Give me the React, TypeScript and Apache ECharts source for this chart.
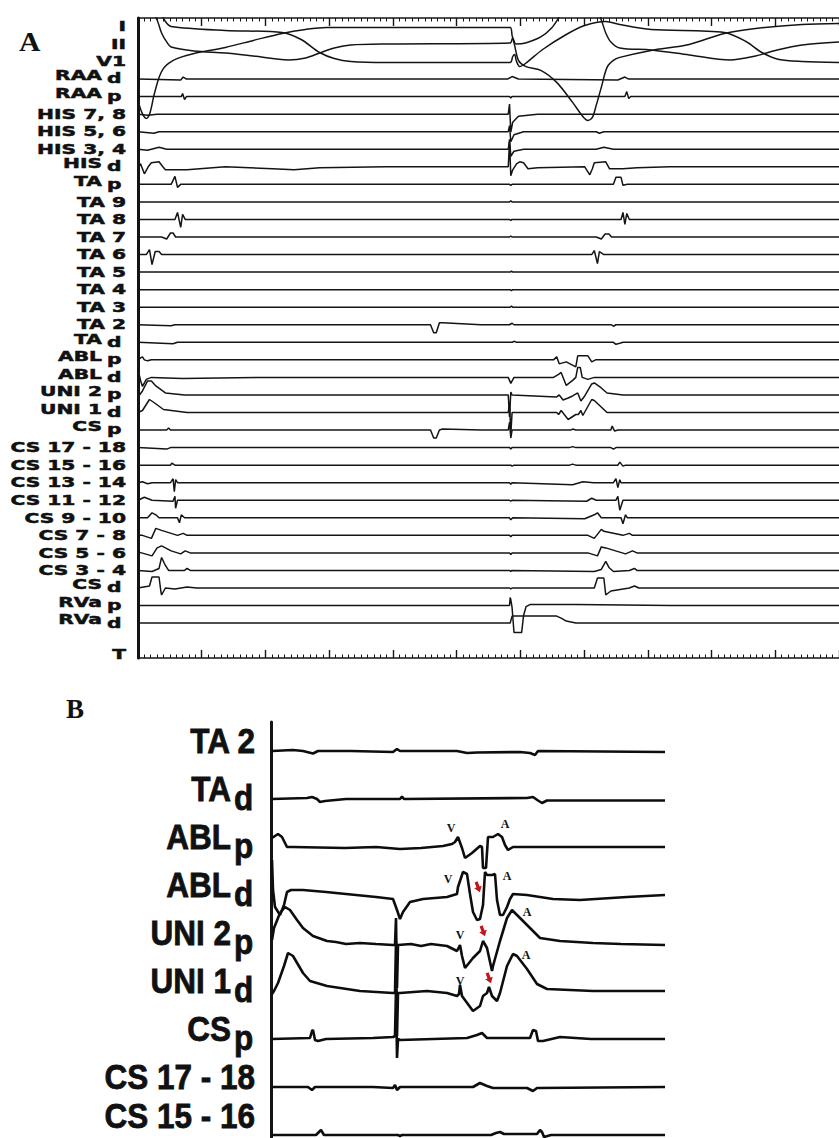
import React, { useEffect, useRef } from 'react';
import * as echarts from 'echarts';

// ---------------- Panel A : channel names (main text, subscript) ----------------
const A_LABELS: [string, string][] = [
  ['I', ''], ['II', ''], ['V1', ''], ['RAA', 'd'], ['RAA', 'p'],
  ['HIS 7, 8', ''], ['HIS 5, 6', ''], ['HIS 3, 4', ''], ['HIS', 'd'], ['TA', 'p'],
  ['TA 9', ''], ['TA 8', ''], ['TA 7', ''], ['TA 6', ''], ['TA 5', ''],
  ['TA 4', ''], ['TA 3', ''], ['TA 2', ''], ['TA', 'd'], ['ABL', 'p'],
  ['ABL', 'd'], ['UNI 2', 'p'], ['UNI 1', 'd'], ['CS', 'p'], ['CS 17 - 18', ''],
  ['CS 15 - 16', ''], ['CS 13 - 14', ''], ['CS 11 - 12', ''], ['CS 9 - 10', ''], ['CS 7 - 8', ''],
  ['CS 5 - 6', ''], ['CS 3 - 4', ''], ['CS', 'd'], ['RVa', 'p'], ['RVa', 'd'],
];

// time axis of panel A (ms); minor tick = 10 ms, major = 100 ms
const A_TIME_MAX = 1100;
const A_TICK = 100;
const A_MINOR_SPLIT = 10;

// ---------------- Panel A traces : [time ms, deflection] ----------------
const A_I = [[0,-74],[6,-86],[13,-92],[19,-86],[25,-69],[33,-51],[40,-42],[48,-37],[62,-32],[88,-27],[137,-21],[181,-14],[226,-7],[263,-3],[296,-1],[434,-1],[584,-1],[587,-9],[591,-19],[597,-34],[608,-40],[632,-44],[657,-56],[682,-76],[698,-90],[706,-94],[713,-91],[719,-79],[727,-61],[736,-41],[746,-34],[756,-31],[805,-24],[865,-18],[920,-7],[969,-2],[1042,2],[1100,3]];
const A_II = [[18,39],[30,24],[37,11],[45,2],[52,-3],[88,-7],[137,-9],[181,-12],[236,-16],[263,-14],[285,-9],[308,-4],[334,-1],[389,0],[584,1],[588,6],[593,0],[608,1],[632,7],[649,16],[660,26],[672,39],[716,39],[727,24],[734,11],[742,2],[756,-4],[805,-6],[865,-11],[929,-16],[969,-12],[1003,-6],[1042,-1],[1100,2]];
const A_V1 = [[33,52],[43,40],[52,35],[137,31],[226,29],[256,22],[285,9],[308,3],[334,0],[389,-1],[584,-1],[588,5],[591,7],[594,0],[599,-5],[608,-2],[635,12],[672,27],[701,36],[734,40],[756,37],[805,32],[920,29],[954,20],[979,9],[1006,2],[1042,0],[1100,-1]];
const A_RAAd = [[0,0],[67,-1],[71,2],[76,0],[580,0],[587,2.5],[597,0],[753,-1],[764,2],[770,0],[1100,0]];
const A_RAAp = [[0,0],[68,0],[70,3],[73,-3],[76,0],[583,0],[585,-1.5],[587,0],[764,0],[767,5],[770,-2],[773,0],[1100,0]];
const A_HIS78 = [[0,0],[15,-1],[30,0],[581,0],[583,10],[585,-18],[588,-8],[597,-2],[627,0],[1100,0]];
const A_HIS56 = [[0,0],[25,-1.5],[33,0],[581,0],[583,6],[585,-10],[590,-3],[605,0],[719,0],[724,-1.5],[731,0],[1100,0]];
const A_HIS34 = [[0,0],[15,-1],[33,2],[45,0],[581,0],[583,10],[585,-7],[590,-2],[605,0],[719,0],[731,2],[746,0],[1100,0]];
const A_HISd = [[0,0],[4,3],[10,-7],[16,0],[21,4],[33,5],[39,0],[43,-3],[77,-3],[137,0],[211,-2],[245,-3],[285,-1],[389,0],[581,0],[583,25],[585,-9],[588,-3],[594,3],[599,5],[605,4],[612,-2],[627,-1],[701,0],[704,-3],[709,-8],[713,-2],[716,4],[734,5],[740,-2],[761,-2],[783,-1],[835,0],[1100,0]];
const A_TAp = [[0,0],[52,0],[58,8],[62,-3],[67,0],[583,0],[585,-1],[587,0],[746,0],[750,7],[758,7],[761,-1],[768,0],[1100,0]];
const A_TA9 = [[0,0],[583,0],[585,1],[587,0],[1100,0]];
const A_TA8 = [[0,0],[58,0],[62,7],[67,-8],[70,5],[74,0],[583,0],[585,-1],[587,0],[758,0],[761,7],[764,-5],[767,6],[771,0],[1100,0]];
const A_TA7 = [[0,0],[37,0],[45,-2],[51,4],[55,4],[59,0],[583,0],[585,1],[587,0],[719,0],[727,-2],[733,3],[739,3],[743,0],[1100,0]];
const A_TA6 = [[0,0],[13,0],[18,5],[22,-10],[27,3],[33,3],[37,0],[712,0],[716,4],[721,-9],[724,3],[731,0],[1100,0]];
const A_TA5 = [[0,0],[584,0],[586,1],[588,0],[1100,0]];
const A_TA4 = [[0,0],[584,0],[586,-1],[588,0],[1100,0]];
const A_TA3 = [[0,0],[584,0],[586,1],[588,0],[1100,0]];
const A_TA2 = [[0,0],[52,-1],[58,0],[459,0],[464,-8],[468,-8],[473,2],[478,2],[538,0],[583,0],[587,1.5],[590,0],[743,0],[746,-1.5],[750,0],[1100,0]];
const A_TAd = [[0,0],[55,-1.5],[62,0],[587,0],[591,1],[594,0],[746,0],[750,-2],[756,-1],[761,0],[1100,0]];
const A_ABLp = [[0,0],[4,2],[7,3],[10,0],[15,-1],[21,0],[652,0],[657,3],[661,-4],[672,-2],[687,-7],[690,4],[706,4],[712,-2],[718,0],[1100,0]];
const A_ABLd = [[0,8],[4,-3],[7,-9],[13,-2],[21,0],[70,-1],[200,0],[581,0],[585,-6],[590,0],[652,0],[660,3],[664,5],[672,-8],[682,-3],[687,0],[690,10],[694,10],[697,0],[706,-2],[716,0],[1100,0]];
const A_UNI2p = [[0,-2],[7,4],[15,14],[21,14],[28,9],[43,2],[73,0],[581,0],[583,-22],[585,3],[587,0],[657,-2],[661,0],[667,-5],[675,-3],[682,-1],[690,2],[695,-6],[701,-1],[712,11],[716,12],[727,7],[736,2],[761,0],[1100,0]];
const A_UNI1d = [[0,0],[7,2],[18,13],[25,10],[40,3],[77,0],[581,0],[583,10],[585,-22],[587,0],[657,0],[660,-2],[664,2],[675,-7],[687,-2],[691,-2],[695,2],[698,-3],[712,13],[716,12],[736,0],[1100,0]];
const A_CSp = [[0,0],[45,0],[48,2],[51,0],[459,0],[464,-8],[468,-8],[473,0],[478,1],[538,0],[581,0],[583,8],[585,-8],[587,0],[679,0],[682,1],[687,0],[742,0],[744,4],[748,-1],[753,0],[1100,0]];
const A_CS1718 = [[0,0],[45,-1.5],[51,0],[583,0],[585,-1.5],[587,0],[677,0],[682,1],[687,0],[742,0],[746,-1.5],[750,0],[1100,0]];
const A_CS1516 = [[0,0],[51,0],[53,2],[58,0],[585,0],[587,-1],[590,0],[677,0],[682,1],[687,0],[753,0],[756,3],[761,-1],[765,0],[1100,0]];
const A_CS1314 = [[0,0],[7,1],[15,-1],[22,0],[51,0],[55,4],[57,-9],[59,3],[62,0],[583,0],[585,-1.5],[587,0],[682,-2],[698,1],[715,0],[746,0],[750,4],[753,-5],[756,3],[758,0],[1100,0]];
const A_CS1112 = [[0,0],[10,3],[22,0],[55,-1],[58,4],[59,-8],[62,0],[583,0],[585,-1],[587,0],[704,-1],[712,2],[719,0],[750,0],[753,4],[756,-10],[761,0],[1100,0]];
const A_CS910 = [[0,0],[15,0],[22,5],[28,3],[33,0],[62,0],[65,-5],[68,3],[73,0],[583,0],[585,-2],[588,0],[701,-1],[716,3],[721,5],[727,0],[758,0],[761,-6],[765,3],[768,0],[1100,0]];
const A_CS78 = [[0,0],[7,0],[21,-3],[28,7],[37,5],[62,0],[71,2],[77,0],[583,0],[585,-1.5],[587,0],[706,0],[716,-3],[727,6],[731,4],[761,0],[771,2],[776,0],[1100,0]];
const A_CS56 = [[0,1],[22,-3],[30,5],[37,7],[52,2],[67,-1],[74,2],[82,0],[583,0],[585,-1.5],[587,0],[706,0],[721,-3],[727,6],[734,5],[765,-1],[776,2],[783,0],[1100,0]];
const A_CS34 = [[0,0],[22,-1],[33,2],[37,13],[43,5],[48,0],[73,0],[77,2],[82,0],[583,0],[585,-1],[587,0],[716,-1],[727,1],[734,9],[739,3],[746,-1],[771,0],[779,2],[783,0],[1100,0]];
const A_CSd = [[0,0],[18,2],[22,11],[33,11],[36,-4],[37,-7],[43,0],[58,-1],[77,1],[92,0],[583,0],[585,-1],[587,0],[697,0],[716,0],[721,10],[731,10],[734,-7],[742,-3],[771,0],[779,2],[786,0],[1100,0]];
const A_RVap = [[0,0],[583,0],[584,8],[585,6],[587,-2],[590,-27],[602,-27],[605,-10],[609,-1],[615,1],[687,1],[835,0],[1100,0]];
const A_RVad = [[0,0],[584,0],[587,7],[597,7],[657,7],[664,5],[672,2],[687,0],[1100,0]];

const A_TRACES = [A_I, A_II, A_V1, A_RAAd, A_RAAp, A_HIS78, A_HIS56, A_HIS34, A_HISd, A_TAp,
  A_TA9, A_TA8, A_TA7, A_TA6, A_TA5, A_TA4, A_TA3, A_TA2, A_TAd, A_ABLp,
  A_ABLd, A_UNI2p, A_UNI1d, A_CSp, A_CS1718, A_CS1516, A_CS1314, A_CS1112, A_CS910, A_CS78,
  A_CS56, A_CS34, A_CSd, A_RVap, A_RVad];

// ---------------- Panel B ----------------
const B_LABELS: [string, string][] = [
  ['TA 2', ''], ['TA', 'd'], ['ABL', 'p'], ['ABL', 'd'], ['UNI 2', 'p'],
  ['UNI 1', 'd'], ['CS', 'p'], ['CS 17 - 18', ''], ['CS 15 - 16', ''],
];
const B_TIME_MAX = 788;

const B_TA2 = [[2,0],[44,1],[64,0],[84,-2.5],[94,0],[160,0],[244,-1],[252,2],[258,0],[372,0],[392,-2],[412,-1.5],[498,-1],[518,-2],[528,-4],[534,0],[788,-1]];
const B_TAd = [[2,0],[72,1],[82,2],[92,0],[98,-3],[108,-2],[150,0],[258,0],[262,2.5],[266,0],[512,1],[524,2],[534,-1.5],[542,-4],[552,-1.5],[788,-1.5]];
const B_ABLp = [[2,9],[14,13],[22,10],[32,0],[44,0],[148,-1],[210,0],[258,-2],[300,-1],[344,1],[362,3],[368,5],[374,10],[382,-1],[388,-11],[402,-6],[418,1],[422,0],[424,-21],[430,-21],[434,10],[444,10],[454,13],[462,10],[468,2],[474,-3],[484,0],[618,0],[788,0]];
const B_ABLd = [[2,35],[4,5],[8,-12],[18,-20],[26,-10],[32,3],[40,5],[64,5],[110,3],[150,1],[210,-2],[244,-4],[252,-15],[258,-24],[264,-17],[278,-7],[304,-4],[352,-2],[372,1],[374,8],[384,23],[392,21],[398,1],[404,-17],[412,-25],[418,-24],[424,-10],[428,23],[432,20],[442,20],[448,21],[452,-5],[458,-20],[464,-20],[472,-12],[478,-4],[484,1],[512,0],[564,-4],[618,-5],[712,-2],[788,0]];
const B_UNI2p = [[2,3],[6,15],[18,30],[28,36],[38,33],[52,23],[64,15],[84,7],[112,2],[130,1],[150,-1],[178,0],[210,-1],[244,-2],[248,-2],[250,25],[252,-45],[254,-2],[280,-1],[300,-3],[320,-1],[352,-3],[372,-8],[378,-2],[382,-13],[388,-25],[404,-15],[418,-8],[424,2],[432,-5],[442,-28],[444,-23],[458,2],[472,25],[482,33],[492,28],[512,18],[538,5],[578,2],[644,0],[700,-1],[788,-2]];
const B_UNI1d = [[2,-3],[6,0],[14,8],[26,25],[34,38],[44,35],[64,18],[78,10],[112,5],[178,0],[244,-2],[248,-2],[250,50],[252,-45],[254,-2],[258,-2],[312,0],[352,-2],[372,-5],[376,-3],[378,6],[382,-5],[404,-20],[418,-15],[424,-5],[432,-2],[436,4],[442,-5],[452,-10],[458,-2],[472,25],[484,37],[492,35],[512,22],[532,7],[552,2],[644,0],[788,0]];
const B_CSp = [[2,0],[78,1],[82,8],[84,9],[88,-1],[94,-2],[110,0],[204,1],[244,2],[248,3],[250,50],[252,-19],[254,0],[258,-1],[392,1],[412,4],[422,6],[432,1],[518,1],[524,9],[530,8],[534,-2],[544,-2],[578,2],[640,0],[788,0]];
const B_CS1718 = [[2,0],[74,0],[82,-3],[88,0],[204,0],[244,-1],[248,2],[252,-3],[258,0],[404,0],[418,4],[432,1],[444,-1],[512,-1],[524,-4],[532,-1],[788,0]];
const B_CS1516 = [[2,0],[90,0],[96,3],[100,5],[106,0],[254,0],[258,-1],[262,0],[440,0],[450,2],[458,3],[466,1],[532,1],[538,5],[542,3],[546,-2],[560,0],[788,0]];

const B_TRACES = [B_TA2, B_TAd, B_ABLp, B_ABLd, B_UNI2p, B_UNI1d, B_CSp, B_CS1718, B_CS1516];

// annotations in panel B: channel index, time, deflection, letter
const B_LETTERS: [number, number, number, string][] = [
  [2, 360, 19, 'V'], [2, 468, 23, 'A'],
  [3, 354, 16, 'V'], [3, 472, 19, 'A'],
  [4, 378, 8, 'V'], [4, 512, 31, 'A'],
  [5, 378, 10, 'V'], [5, 510, 36, 'A'],
];
const B_ARROWS: [number, number, number][] = [[3, 414, 8], [4, 424, 12], [5, 436, 13]];

// ---------------- layout (pixels / offsets) ----------------
const A_ROW = 17.55, A_FIRST = 8.4, A_YSPAN = 640;
const B_ROW = 48, B_FIRST = 29, B_YSPAN = 416;
const aBase = (i: number) => -(A_FIRST + A_ROW * i);
const bBase = (i: number) => -(B_FIRST + B_ROW * i);

const INK = '#141414';

function buildOption(): any {
  const tickAxis = (position: 'top' | 'bottom') => ({
    gridIndex: 0, type: 'value', position, min: 0, max: A_TIME_MAX, interval: A_TICK,
    axisLine: { show: true, onZero: false, lineStyle: { color: INK, width: 1.6 } },
    axisTick: { show: true, inside: true, length: 8, lineStyle: { color: INK, width: 1.4 } },
    minorTick: { show: true, splitNumber: A_MINOR_SPLIT, length: 3.5, lineStyle: { color: INK, width: 1 } },
    axisLabel: { show: false }, splitLine: { show: false }, minorSplitLine: { show: false },
  });
  const series: any[] = [];
  A_TRACES.forEach((tr, i) => {
    series.push({
      type: 'line', xAxisIndex: 0, yAxisIndex: 0, symbol: 'none', silent: true,
      smooth: i < 3 ? 0.3 : false,
      lineStyle: { color: INK, width: 1.5 },
      data: tr.map(([t, a]) => [t, aBase(i) + a]),
    });
  });
  B_TRACES.forEach((tr, i) => {
    const marks: any[] = [];
    B_LETTERS.filter(l => l[0] === i).forEach(([, t, a, txt]) => marks.push({
      coord: [t, bBase(i) + a], symbol: 'rect', symbolSize: 1,
      itemStyle: { color: 'rgba(0,0,0,0)' },
      label: { show: true, position: 'inside', formatter: txt, color: '#111',
        fontFamily: '"Liberation Serif", serif', fontWeight: 'bold', fontSize: 12 },
    }));
    B_ARROWS.filter(l => l[0] === i).forEach(([, t, a]) => marks.push({
      coord: [t, bBase(i) + a],
      symbol: 'path://M3,0 L7,0 L7,6 L10,6 L5,12 L0,6 L3,6 Z', symbolSize: [8, 11], symbolRotate: 20,
      itemStyle: { color: '#c0161e' }, label: { show: false },
    }));
    series.push({
      type: 'line', xAxisIndex: 2, yAxisIndex: 1, symbol: 'none', silent: true,
      lineStyle: { color: '#0d0d0d', width: 2.6 },
      data: tr.map(([t, a]) => [t, bBase(i) + a]),
      markPoint: marks.length ? { silent: true, animation: false, data: marks } : undefined,
    });
  });
  return {
    animation: false,
    backgroundColor: '#ffffff',
    grid: [
      { left: 138, top: 18, width: 740, height: A_YSPAN },
      { left: 271, top: 722, width: 394, height: B_YSPAN },
    ],
    xAxis: [
      tickAxis('top'),
      tickAxis('bottom'),
      { gridIndex: 1, type: 'value', min: 0, max: B_TIME_MAX, show: false },
    ],
    yAxis: [
      { gridIndex: 0, type: 'value', min: -A_YSPAN, max: 0,
        axisLine: { show: true, onZero: false, lineStyle: { color: INK, width: 3 } },
        axisTick: { show: false }, axisLabel: { show: false }, splitLine: { show: false } },
      { gridIndex: 1, type: 'value', min: -B_YSPAN, max: 0,
        axisLine: { show: true, onZero: false, lineStyle: { color: INK, width: 3 } },
        axisTick: { show: false }, axisLabel: { show: false }, splitLine: { show: false } },
    ],
    series,
  };
}

function txt(x: number, y: number, text: string, font: string, align: string, scaleX: number, heavy: number): any {
  return {
    type: 'text', x, y, scaleX, silent: true,
    style: {
      text, font, fill: '#111', stroke: '#111', lineWidth: heavy,
      textAlign: align, textVerticalAlign: 'middle', align, verticalAlign: 'middle',
    },
  };
}

function buildGraphic(chart: any): any[] {
  const els: any[] = [];
  const fA = 'bold 13.5px "DejaVu Sans"';
  const sA = 1.5;
  A_LABELS.forEach(([main, sub], i) => {
    const y = chart.convertToPixel({ xAxisIndex: 0, yAxisIndex: 0 }, [0, aBase(i)])[1];
    if (sub) {
      els.push(txt(102, y - 3.5, main, fA, 'right', sA, 0.5));
      els.push(txt(107, y - 0.3, sub, fA, 'left', sA, 0.5));
    } else {
      els.push(txt(126, y, main, fA, 'right', sA, 0.5));
    }
  });
  els.push(txt(126, 654, 'T', fA, 'right', sA, 0.5));
  const fB = 'bold 35px "Liberation Sans"';
  const sB = 0.9;
  B_LABELS.forEach(([main, sub], i) => {
    const y = chart.convertToPixel({ xAxisIndex: 2, yAxisIndex: 1 }, [0, bBase(i)])[1];
    const lift = i === B_LABELS.length - 1 ? 9 : 0;
    if (sub) {
      els.push(txt(231, y - 10 - lift, main, fB, 'right', sB, 0.8));
      els.push(txt(234, y - 1 - lift, sub, fB, 'left', sB, 0.8));
    } else {
      els.push(txt(255, y - 10 - lift, main, fB, 'right', sB, 0.8));
    }
  });
  const fP = 'bold 27px "Liberation Serif"';
  els.push(txt(19, 42, 'A', fP, 'left', 1.1, 0));
  els.push(txt(66, 709, 'B', fP, 'left', 1, 0));
  return els;
}

export default function App() {
  const ref = useRef<HTMLDivElement>(null);
  useEffect(() => {
    const el = ref.current;
    if (!el) return;
    const chart = echarts.init(el, null, { renderer: 'svg' });
    chart.setOption(buildOption());
    chart.setOption({ graphic: { elements: buildGraphic(chart) } });
    return () => chart.dispose();
  }, []);
  return (
    <div
      ref={ref}
      style={{ position: 'absolute', left: 0, top: 0, width: 839, height: 1138, background: '#fff' }}
    />
  );
}
